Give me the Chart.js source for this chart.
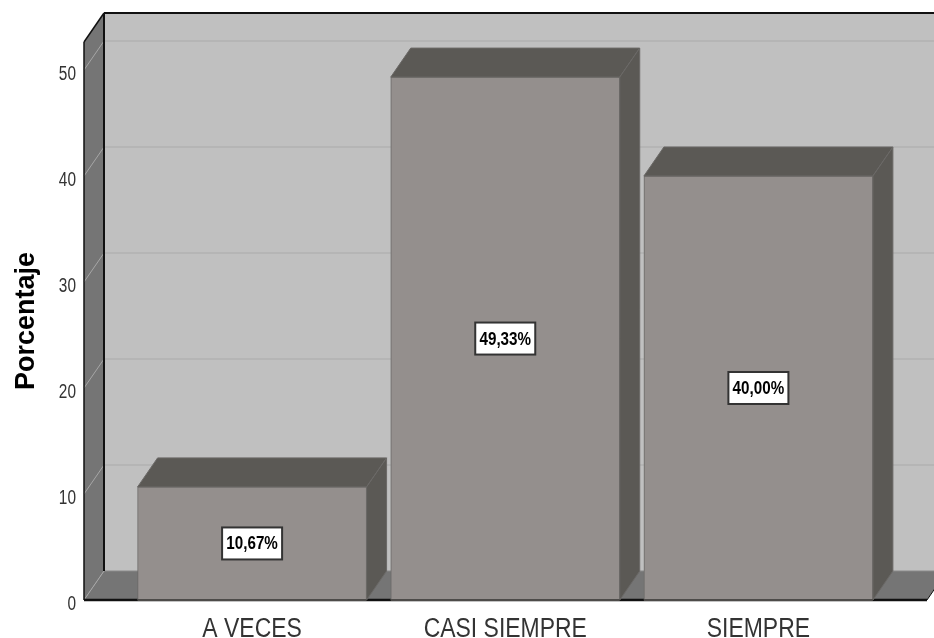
<!DOCTYPE html>
<html>
<head>
<meta charset="utf-8">
<style>
  html, body { margin: 0; padding: 0; background: #fff; overflow: hidden; }
  canvas { display: block; }
</style>
<script src="https://cdn.jsdelivr.net/npm/chart.js@4"></script>
</head>
<body>
<canvas id="chart" width="934" height="638"></canvas>
<script>
const categories = ['A VECES', 'CASI SIEMPRE', 'SIEMPRE'];
const values = [10.67, 49.33, 40.00];
const tickValues = [0, 10, 20, 30, 40, 50];
const axisTitle = 'Porcentaje';

// oblique offset of the 3D box
const DX = 20, DY = 29;

function poly(ctx, pts, fill, stroke, lw) {
    ctx.beginPath();
    pts.forEach((p, i) => i ? ctx.lineTo(p[0], p[1]) : ctx.moveTo(p[0], p[1]));
    ctx.closePath();
    if (fill) { ctx.fillStyle = fill; ctx.fill(); }
    if (stroke) { ctx.strokeStyle = stroke; ctx.lineWidth = lw || 1; ctx.stroke(); }
}

function line(ctx, x1, y1, x2, y2, color, lw) {
    ctx.beginPath();
    ctx.moveTo(x1, y1);
    ctx.lineTo(x2, y2);
    ctx.strokeStyle = color;
    ctx.lineWidth = lw;
    ctx.stroke();
}

// the reference uses Arial Narrow, not installed here, so squeeze Liberation Sans
function narrowText(ctx, text, x, y, font, squeeze, align, color) {
    ctx.save();
    ctx.translate(x, y);
    ctx.scale(squeeze, 1);
    ctx.font = font;
    ctx.fillStyle = color;
    ctx.textAlign = align;
    ctx.textBaseline = 'alphabetic';
    ctx.fillText(text, 0, 0);
    ctx.restore();
}

// back wall, side wall and floor, placed from the chart area
const roomPlugin = {
    id: 'room',
    beforeDatasetsDraw(chart) {
        const { ctx, chartArea: a, scales: { y } } = chart;
        const bx = a.left + DX, tY = a.top - DY, fY = a.bottom - DY;
        ctx.save();
        poly(ctx, [[bx, tY], [a.right + DX, tY], [a.right + DX, fY], [bx, fY]], '#c0c0c0');
        poly(ctx, [[a.left, a.top], [bx, tY], [bx, fY], [a.left, a.bottom]], '#757575');
        poly(ctx, [[a.left, a.bottom], [bx, fY], [a.right + DX, fY], [a.right, a.bottom]], '#757575');
        tickValues.slice(1).forEach(v => {
            const py = y.getPixelForValue(v);
            line(ctx, bx, py - DY, a.right + DX, py - DY, '#b2b2b2', 1.5);
            line(ctx, a.left, py, bx, py - DY, '#a6a6a6', 1);
        });
        line(ctx, a.left, a.bottom, bx, fY, '#a6a6a6', 1);
        line(ctx, bx, fY, a.right + DX, fY, '#8a8a8a', 1);
        line(ctx, a.left, a.top, bx, tY, '#111', 1.5);
        line(ctx, a.left, a.top, a.left, a.bottom, '#111', 1.5);
        line(ctx, bx, tY, a.right + DX, tY, '#111', 2);
        line(ctx, bx, tY, bx, fY, '#111', 2);
        line(ctx, a.right, a.bottom, a.right + DX, fY, '#111', 1);
        line(ctx, a.left, a.bottom, a.right, a.bottom, '#111', 2.5);
        ctx.restore();
    },
    afterDatasetsDraw(chart) {
        const { ctx, chartArea: a, scales: { x, y } } = chart;
        const base = y.getPixelForValue(0);
        ctx.save();
        chart.getDatasetMeta(0).data.forEach((bar, i) => {
            const l = bar.x - bar.width / 2, r = bar.x + bar.width / 2, t = bar.y;
            poly(ctx, [[l, t], [l + DX, t - DY], [r + DX, t - DY], [r, t]], '#5b5955', '#6b6967', 1);
            poly(ctx, [[r, t], [r + DX, t - DY], [r + DX, base - DY], [r, base]], '#5b5955', '#6b6967', 1);
            line(ctx, l, base, r, base, '#4d4b49', 2);

            // value box
            const label = values[i].toFixed(2).replace('.', ',') + '%';
            const cy = (t + base) / 2, bw = 60, bh = 32;
            ctx.fillStyle = '#fff';
            ctx.fillRect(bar.x - bw / 2, cy - bh / 2, bw, bh);
            ctx.strokeStyle = '#333';
            ctx.lineWidth = 2;
            ctx.strokeRect(bar.x - bw / 2, cy - bh / 2, bw, bh);
            narrowText(ctx, label, bar.x, cy + 6, 'bold 19px "Liberation Sans", sans-serif', 0.8, 'center', '#000');
        });
        ctx.restore();

        categories.forEach((c, i) => {
            narrowText(ctx, c, x.getPixelForValue(i), 637, '27px "Liberation Sans", sans-serif', 0.85, 'center', '#333');
        });
        tickValues.forEach(v => {
            narrowText(ctx, String(v), a.left - 8, y.getPixelForValue(v) + 10, '20px "Liberation Sans", sans-serif', 0.77, 'right', '#333');
        });
    }
};

new Chart(document.getElementById('chart'), {
    type: 'bar',
    data: {
        datasets: [{
            data: values.map((v, i) => ({ x: i, y: v })),
            backgroundColor: '#948f8d',
            borderColor: '#6b6967',
            borderWidth: 1,
            barThickness: 229
        }]
    },
    options: {
        responsive: false,
        animation: false,
        layout: { padding: { top: 42, right: 7, left: 0, bottom: 0 } },
        plugins: { legend: { display: false }, tooltip: { enabled: false } },
        scales: {
            x: {
                type: 'linear',
                offset: false,
                min: -0.664,
                max: 2.666,
                grid: { display: false, drawTicks: false },
                border: { display: false },
                afterBuildTicks: s => { s.ticks = categories.map((c, i) => ({ value: i })); },
                afterFit: s => { s.height = 38; },
                ticks: { display: false }
            },
            y: {
                min: 0,
                max: 52.64,
                grid: { display: false, drawTicks: false },
                border: { display: false },
                afterBuildTicks: s => { s.ticks = tickValues.map(v => ({ value: v })); },
                afterFit: s => { s.width = 84; },
                title: {
                    display: true,
                    text: axisTitle,
                    color: '#000',
                    padding: { top: 10, bottom: 0 },
                    font: { family: '"Liberation Sans", sans-serif', size: 27, weight: 'bold' }
                },
                ticks: { display: false }
            }
        }
    },
    plugins: [roomPlugin]
});
</script>
</body>
</html>
